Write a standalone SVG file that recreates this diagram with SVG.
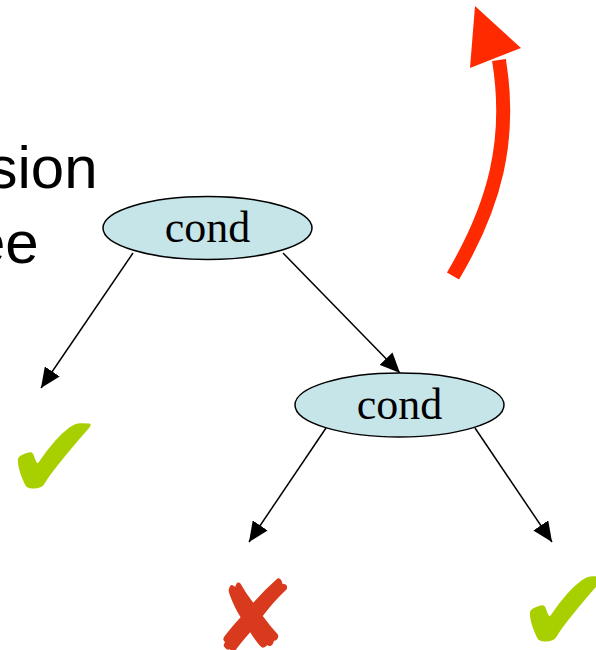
<svg xmlns="http://www.w3.org/2000/svg" width="596" height="650" viewBox="0 0 596 650">
  <style>
    .title { font-family: "Liberation Sans", Arial, sans-serif; font-size: 60px; fill: #000; }
    .node ellipse { fill: #c6e5e9; stroke: #000; stroke-width: 1.5; }
    .node text { font-family: "Liberation Serif", "Times New Roman", serif; font-size: 44px; fill: #000; text-anchor: middle; }
    .edge { stroke: #000; stroke-width: 1.5; fill: none; marker-end: url(#ah); }
    .ok { font-family: "DejaVu Sans", sans-serif; font-size: 120px; fill: #a8d000; }
    .bad { font-family: "DejaVu Sans", sans-serif; font-size: 101px; fill: #d93a1e; }
  </style>
  <defs>
    <marker id="ah" markerUnits="userSpaceOnUse" markerWidth="20" markerHeight="18" refX="20" refY="9" orient="auto">
      <path d="M0,0 L20,9 L0,18 z" fill="#000"/>
    </marker>
  </defs>
  <rect width="596" height="650" fill="#fff"/>

  <g id="title">
    <text class="title" x="-12.5" y="188">sion</text>
    <text class="title" x="-28" y="263">ee</text>
  </g>

  <g id="up-arrow">
    <path d="M453,276 C495,205 512,140 499,60" fill="none" stroke="#ff2a00" stroke-width="14"/>
    <polygon points="475,6 521,48 470,68" fill="#ff2a00"/>
  </g>

  <g id="connectors">
    <line class="edge" x1="133" y1="253" x2="41" y2="388"/>
    <line class="edge" x1="283" y1="253" x2="400" y2="373"/>
    <line class="edge" x1="326" y1="428" x2="249" y2="542"/>
    <line class="edge" x1="475" y1="428" x2="552" y2="542"/>
  </g>

  <g id="cond1" class="node">
    <ellipse cx="207.5" cy="228" rx="104.5" ry="31.5"/>
    <text x="207.5" y="242">cond</text>
  </g>
  <g id="cond2" class="node">
    <ellipse cx="399.5" cy="405" rx="104.5" ry="32"/>
    <text x="399.5" y="419">cond</text>
  </g>

  <g id="leaf-yes-1">
    <text class="ok" x="4" y="499">✔</text>
  </g>
  <g id="leaf-no">
    <text class="bad" x="211" y="653">✘</text>
  </g>
  <g id="leaf-yes-2">
    <text class="ok" x="516" y="652">✔</text>
  </g>
</svg>
